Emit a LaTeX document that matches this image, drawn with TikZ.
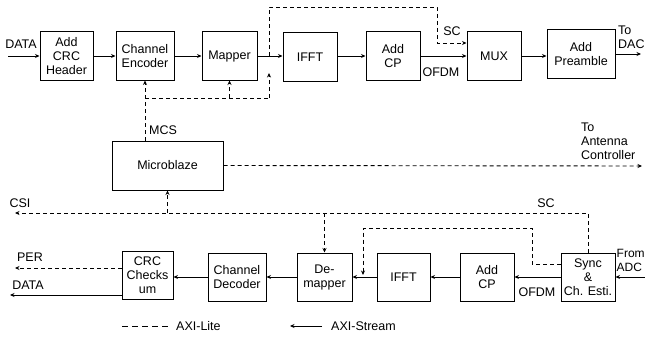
\documentclass[tikz,border=0pt]{standalone}
\usepackage{fontspec}
\setmainfont{Liberation Sans}
\usetikzlibrary{arrows.meta}

\begin{document}
\begin{tikzpicture}[x=1pt,y=-1pt,
  >={Stealth[length=4.5pt,width=4pt]},
  blk/.style={draw, line width=1pt, align=center, inner sep=0pt, minimum height=48pt},
  lbl/.style={inner sep=0pt, align=left},
  dsh/.style={dash pattern=on 4pt off 3pt, line width=0.9pt},
  sld/.style={line width=0.9pt},
  font=\fontsize{12.5}{14}\selectfont]
  \useasboundingbox (0,0) rectangle (645,337);

  % Transmitter

  \node[blk, minimum width=53pt] (crc) at (66.5,56) {Add\\CRC\\Header};
  \node[blk, minimum width=58pt] (enc) at (145,56) {Channel\\Encoder};
  \node[blk, minimum width=55pt] (map) at (229.5,56) {Mapper};
  \node[blk, minimum width=54pt] (ifft) at (310,57) {IFFT};
  \node[blk, minimum width=54pt] (acp) at (393,56) {Add\\CP};
  \node[blk, minimum width=54pt] (mux) at (494,56) {MUX};
  \node[blk, minimum width=68pt] (pre) at (581,54) {Add\\Preamble};

  \coordinate (din) at (8,56);
  \coordinate (dac) at (641,54);

  \draw[sld,->] (din) -- (crc);
  \draw[sld,->] (crc) -- (enc);
  \draw[sld,->] (enc) -- (map);
  \draw[sld,->] (map.east) -- (map.east -| ifft.west);
  \draw[sld,->] (acp.west -| ifft.east) -- (acp);
  \draw[sld,->] (acp) -- (mux);
  \draw[sld,->] (mux.east) -- (mux.east -| pre.west);
  \draw[sld,->] (pre) -- (dac);

  \node[lbl] (datal) at (21,44) {DATA};
  \node[lbl] (ofdm1) at (441,72) {OFDM};
  \node[lbl] (sc1) at (452,31) {SC};
  \node[lbl, anchor=west] (dacl) at (618,37) {To\\DAC};

  % SC bypass to the MUX

  \coordinate (tap) at (269,56);
  \coordinate (scc) at (437,7);
  \draw[dsh,->] (tap) |- (scc) |- ([yshift=13pt]mux.west);

  % Microblaze and control

  \node[blk, minimum width=111pt, minimum height=49pt] (mb) at (167.5,165.5) {Microblaze};

  \coordinate (bus) at (269,98);
  \coordinate (mcsend) at (269,73);
  \draw[dsh,->] (enc.south |- mb.north) -- (enc.south);
  \draw[dsh] (enc.south |- bus) -- (bus);
  \draw[dsh,->] (map.south |- bus) -- (map.south);
  \draw[dsh,->] (bus) -- (mcsend);
  \node[lbl] (mcsl) at (163,130) {MCS};

  \coordinate (ant) at (642,166);
  \draw[dsh,->] (mb.east) -- (ant);
  \node[lbl, anchor=north west] (antl) at (581,122.5) {To\\Antenna\\Controller};

  % Receiver

  \node[blk, minimum width=51pt] (chk) at (147.5,275) {CRC\\Checks\\um};
  \node[blk, minimum width=58pt] (dec) at (237,277) {Channel\\Decoder};
  \node[blk, minimum width=55pt] (dem) at (324.5,277) {De-\\mapper};
  \node[blk, minimum width=53pt] (ifft2) at (403.5,277) {IFFT};
  \node[blk, minimum width=54pt] (acp2) at (487,277) {Add\\CP};
  \node[blk, minimum width=54pt] (sync) at (588,277) {Sync\\\&\\Ch. Esti.};

  \coordinate (adc) at (645,277);
  \coordinate (per) at (15,268);
  \coordinate (dout) at (10,295);

  \draw[sld,->] (adc) -- (sync);
  \draw[sld,->] (sync) -- (acp2);
  \draw[sld,->] (acp2) -- (ifft2);
  \draw[sld,->] (ifft2) -- (dem);
  \draw[sld,->] (dem) -- (dec);
  \draw[sld,->] (dec.west) -- (dec.west -| chk.east);
  \draw[dsh,->] (chk.west |- per) -- (per);
  \draw[sld,->] (chk.west |- dout) -- (dout);

  \node[lbl, anchor=west, font=\fontsize{12}{14}\selectfont] (adcl) at (616.5,260) {From\\ADC};
  \node[lbl] (ofdm2) at (537,292) {OFDM};
  \node[lbl] (perl) at (30,257) {PER};
  \node[lbl] (datal2) at (28,285) {DATA};

  % CSI and SC feedback

  \coordinate (csi) at (15,213);
  \draw[dsh,->] (sync.north) |- (csi);
  \draw[dsh,->] (mb.south |- csi) -- (mb.south);
  \draw[dsh,->] (dem.north |- csi) -- (dem.north);
  \node[lbl] (csil) at (20,203) {CSI};
  \node[lbl] (sc2) at (546,203) {SC};

  \coordinate (lp) at (532,228);
  \coordinate (lpend) at (363,275);
  \draw[dsh,->] ([yshift=13pt]sync.west) -| (lp) -| (lpend);

  % Legend

  \coordinate (lg1) at (122,326);
  \coordinate (lg2) at (168,326);
  \coordinate (lg3) at (322,326);
  \coordinate (lg4) at (290,326);
  \draw[dsh, dash pattern=on 6pt off 4pt] (lg1) -- (lg2);
  \node[lbl, anchor=west] (lite) at (176,326) {AXI-Lite};
  \draw[sld,->] (lg3) -- (lg4);
  \node[lbl, anchor=west] (strm) at (331,326) {AXI-Stream};

\end{tikzpicture}
\end{document}
